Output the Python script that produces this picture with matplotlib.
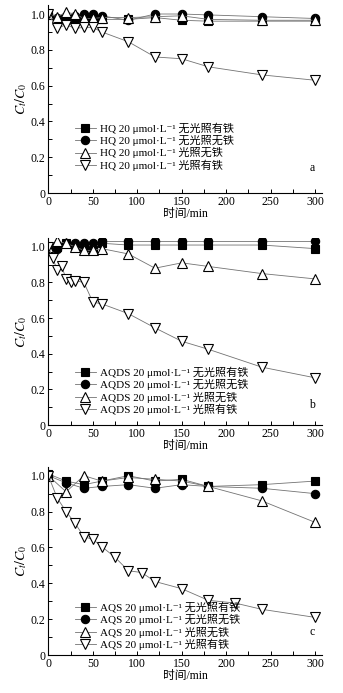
import numpy as np
import matplotlib
matplotlib.use('Agg')
import matplotlib.pyplot as plt
from matplotlib.ticker import MultipleLocator, FuncFormatter

plt.rcParams['font.family'] = ['Liberation Serif', 'DejaVu Serif', 'Noto Sans CJK SC']
plt.rcParams['mathtext.fontset'] = 'stix'

# 图例文字
conds = ['无光照有铁', '无光照无铁', '光照无铁', '光照有铁']
names = ['HQ', 'AQDS', 'AQS']
panel_tags = ['a', 'b', 'c']

# a: HQ
t_a = [0, 10, 20, 30, 40, 50, 60, 90, 120, 150, 180, 240, 300]
a_sq = [1.00, 0.97, 0.97, 0.97, 0.97, 0.97, 0.97, 0.97, 0.98, 0.965, 0.96, 0.96, 0.96]
a_ci = [1.00, 0.98, 0.98, 0.99, 1.00, 1.00, 0.99, 0.965, 1.00, 1.00, 0.995, 0.985, 0.975]
a_up = [1.00, 0.985, 1.01, 1.00, 0.975, 0.975, 0.98, 0.98, 0.985, 0.99, 0.97, 0.965, 0.965]
t_a_dn = [0, 10, 20, 30, 40, 50, 60, 90, 120, 150, 180, 240, 300]
a_dn = [1.00, 0.92, 0.94, 0.92, 0.925, 0.925, 0.90, 0.845, 0.76, 0.75, 0.705, 0.66, 0.63]

# b: AQDS
t_b = [0, 10, 20, 30, 40, 50, 60, 90, 120, 150, 180, 240, 300]
b_sq = [1.00, 1.00, 1.02, 1.00, 1.00, 0.98, 1.02, 1.01, 1.01, 1.01, 1.01, 1.01, 0.99]
b_ci = [1.00, 0.99, 1.02, 1.02, 1.02, 1.02, 1.03, 1.03, 1.03, 1.03, 1.03, 1.03, 1.03]
b_up = [1.00, 1.03, 1.02, 1.00, 0.98, 0.98, 0.99, 0.96, 0.88, 0.91, 0.89, 0.85, 0.82]
t_b_dn = [0, 5, 10, 15, 20, 25, 30, 40, 50, 60, 90, 120, 150, 180, 240, 300]
b_dn = [1.00, 0.935, 0.87, 0.89, 0.82, 0.80, 0.81, 0.80, 0.69, 0.68, 0.625, 0.545, 0.47, 0.425, 0.325, 0.265]

# c: AQS
t_c = [0, 20, 40, 60, 90, 120, 150, 180, 240, 300]
c_sq = [1.01, 0.97, 0.95, 0.97, 1.00, 0.97, 0.98, 0.94, 0.95, 0.97]
c_ci = [1.00, 0.96, 0.93, 0.94, 0.95, 0.93, 0.95, 0.94, 0.93, 0.90]
c_up = [1.00, 0.91, 1.00, 0.97, 0.99, 0.98, 0.97, 0.94, 0.86, 0.74]
t_c_dn = [0, 10, 20, 30, 40, 50, 60, 75, 90, 105, 120, 150, 180, 210, 240, 300]
c_dn = [1.00, 0.875, 0.80, 0.735, 0.66, 0.645, 0.605, 0.545, 0.47, 0.46, 0.41, 0.37, 0.305, 0.29, 0.255, 0.21]

panels = [
    [(t_a, a_sq), (t_a, a_ci), (t_a, a_up), (t_a_dn, a_dn)],
    [(t_b, b_sq), (t_b, b_ci), (t_b, b_up), (t_b_dn, b_dn)],
    [(t_c, c_sq), (t_c, c_ci), (t_c, c_up), (t_c_dn, c_dn)],
]

styles = [
    dict(marker='s', ms=5.5, mfc='black'),
    dict(marker='o', ms=6, mfc='black'),
    dict(marker='^', ms=7.3, mfc='white'),
    dict(marker='v', ms=7.3, mfc='white'),
]

ax_rects = [
    [0.141, 0.7215, 0.798, 0.2712],
    [0.141, 0.3867, 0.798, 0.2700],
    [0.141, 0.0548, 0.798, 0.2717],
]
leg_y = [0.246, 0.183, 0.155]
tag_y = [0.133, 0.107, 0.122]

fig = plt.figure(figsize=(3.43, 6.93), dpi=100)

for i in range(3):
    ax = fig.add_axes(ax_rects[i])
    for j, (t, v) in enumerate(panels[i]):
        st = styles[j]
        ax.plot(t, v, color='0.45', lw=0.6, marker=st['marker'], ms=st['ms'],
                mfc=st['mfc'], mec='black', mew=0.8,
                label=names[i] + ' 20 μmol·L⁻¹ ' + conds[j])
    ax.set_xlim(0, 308)
    ax.set_ylim(0, 1.05)
    ax.xaxis.set_major_locator(MultipleLocator(50))
    ax.xaxis.set_minor_locator(MultipleLocator(25))
    ax.yaxis.set_major_locator(MultipleLocator(0.2))
    ax.yaxis.set_minor_locator(MultipleLocator(0.1))
    ax.yaxis.set_major_formatter(FuncFormatter(lambda v, p: '0' if abs(v) < 1e-9 else '%.1f' % v))
    ax.tick_params(which='both', direction='in', labelsize=8.5, width=0.7, length=3, pad=2)
    ax.spines['top'].set_visible(False)
    ax.spines['right'].set_visible(False)
    for s in ['left', 'bottom']:
        ax.spines[s].set_linewidth(0.8)
    ax.set_xlabel('时间/min', fontsize=8.5, labelpad=0)
    ax.set_ylabel('$C_t/C_0$', fontsize=10, labelpad=1)
    ax.legend(loc='center left', bbox_to_anchor=(0.0975, leg_y[i]), frameon=False,
              fontsize=8, borderpad=0, borderaxespad=0, labelspacing=0.12,
              handlelength=1.85, handletextpad=0.4)
    ax.text(0.963, tag_y[i], panel_tags[i], transform=ax.transAxes,
            ha='center', va='center', fontsize=8.5)

fig.savefig('out.png', dpi=100)
